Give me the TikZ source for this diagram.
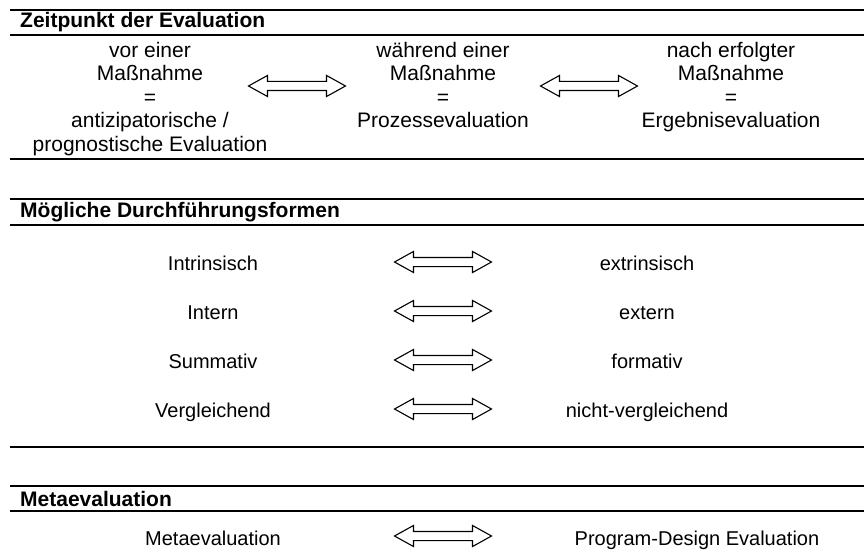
\documentclass[tikz,border=0pt]{standalone}
\usepackage{fontspec}
\setmainfont{Liberation Sans}
\usetikzlibrary{shapes.arrows}

\begin{document}
\begin{tikzpicture}[x=1pt, y=-1pt]

	\tikzstyle{rule}=[line width=2.6pt, black]
	\tikzstyle{head}=[anchor=west, inner sep=0pt, font=\fontsize{21}{23.5}\selectfont\bfseries]
	\tikzstyle{phase}=[align=center, anchor=north, inner sep=0pt, font=\fontsize{21}{23.5}\selectfont]
	\tikzstyle{form}=[anchor=base, inner sep=0pt, font=\fontsize{20}{23}\selectfont]
	\tikzstyle{swap}=[double arrow, draw, fill=white, line width=1.1pt, minimum height=97pt, minimum width=20pt, double arrow head extend=6pt, double arrow tip angle=58, inner sep=4pt]

	\useasboundingbox (0,0) rectangle (864,556);

	% Zeitpunkt
	\draw[rule] (10,10) -- (864,10);
	\draw[rule] (10,35) -- (864,35);
	\draw[rule] (10,159) -- (864,159);
	\node[head] (h1) at (20,22.5) {Zeitpunkt der Evaluation};

	\node[phase] (vor) at (150,42) {vor einer\\Maßnahme\\=\\antizipatorische /\\prognostische Evaluation};
	\node[phase] (waehrend) at (443,42) {während einer\\Maßnahme\\=\\Prozessevaluation};
	\node[phase] (nach) at (731,42) {nach erfolgter\\Maßnahme\\=\\Ergebnisevaluation};

	\node[swap] (a1) at (297,86) {};
	\node[swap] (a2) at (589,86) {};

	% Durchfuehrungsformen
	\draw[rule] (10,199) -- (864,199);
	\draw[rule] (10,225) -- (864,225);
	\draw[rule] (10,447) -- (864,447);
	\node[head] (h2) at (20,212) {Mögliche Durchführungsformen};

	\node[form] (l1) at (213,270) {Intrinsisch};
	\node[form] (l2) at (213,319) {Intern};
	\node[form] (l3) at (213,368) {Summativ};
	\node[form] (l4) at (213,417) {Vergleichend};

	\node[form] (r1) at (647,270) {extrinsisch};
	\node[form] (r2) at (647,319) {extern};
	\node[form] (r3) at (647,368) {formativ};
	\node[form] (r4) at (647,417) {nicht-vergleichend};

	\node[swap] (b1) at (443,262) {};
	\node[swap] (b2) at (443,311) {};
	\node[swap] (b3) at (443,360) {};
	\node[swap] (b4) at (443,409) {};

	% Metaevaluation
	\draw[rule] (10,486) -- (864,486);
	\draw[rule] (10,511) -- (864,511);
	\node[head] (h3) at (20,498.5) {Metaevaluation};

	\node[form] (m1) at (213,545) {Metaevaluation};
	\node[form] (m2) at (697,545) {Program-Design Evaluation};
	\node[swap] (c1) at (443,536) {};

\end{tikzpicture}
\end{document}
